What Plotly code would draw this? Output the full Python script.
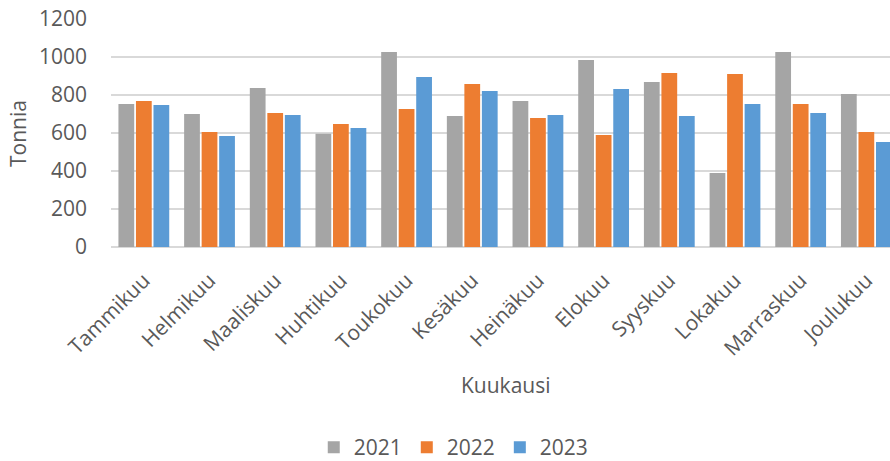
import plotly.graph_objects as go

MONTHS = ["Tammikuu", "Helmikuu", "Maaliskuu", "Huhtikuu", "Toukokuu", "Kesäkuu",
          "Heinäkuu", "Elokuu", "Syyskuu", "Lokakuu", "Marraskuu", "Joulukuu"]
Y2021 = [752, 700, 837, 596, 1026, 689, 768, 984, 868, 389, 1026, 805]
Y2022 = [768, 605, 705, 647, 726, 858, 679, 589, 916, 910, 752, 605]
Y2023 = [747, 584, 695, 626, 895, 821, 695, 832, 689, 752, 705, 553]
Y_TICKS = [0, 200, 400, 600, 800, 1000, 1200]

TEXT = "#595959"
FONT = "Open Sans, Liberation Sans, sans-serif"

fig = go.Figure()
for name, vals, color in [("2021", Y2021, "#A5A5A5"),
                          ("2022", Y2022, "#ED7D31"),
                          ("2023", Y2023, "#5B9BD5")]:
    fig.add_bar(name=name, x=MONTHS, y=vals, marker={"color": color, "line": {"width": 0}})

fig.update_layout(
    width=890,
    height=461,
    margin={"l": 111, "r": 0, "t": 19, "b": 214, "autoexpand": False},
    paper_bgcolor="white",
    plot_bgcolor="white",
    font={"family": FONT, "color": TEXT, "size": 21},
    barmode="group",
    bargap=0.2,
    bargroupgap=0.1,
    legend={"orientation": "h", "x": 0.44, "xanchor": "center", "y": -0.88,
            "yanchor": "middle", "font": {"size": 21}, "itemwidth": 30},
)
fig.update_yaxes(
    range=[0, 1200],
    tickvals=Y_TICKS,
    tickfont={"size": 21},
    ticklabelstandoff=23,
    ticklabeloverflow="allow",
    automargin=False,
    gridcolor="#D9D9D9",
    gridwidth=1.5,
    zeroline=True,
    zerolinecolor="#D9D9D9",
    zerolinewidth=1.5,
    ticks="",
)
fig.update_xaxes(
    range=[-0.5, 11.36],
    tickangle=-45,
    tickfont={"size": 21},
    ticklabelstandoff=16,
    ticklabeloverflow="allow",
    automargin=False,
    showline=False,
)

# axis titles
fig.add_annotation(text="Kuukausi", xref="paper", yref="paper", x=0.507, y=-0.605,
                   xanchor="center", yanchor="middle", showarrow=False,
                   font={"size": 21})
fig.add_annotation(text="Tonnia", xref="paper", yref="paper", x=-0.1194, y=0.5,
                   xanchor="center", yanchor="middle", textangle=-90,
                   showarrow=False, font={"size": 21})

# drop the default 8px body margin so the figure fills the window exactly
fig.write_html("out.html", config={"displayModeBar": False},
               post_script="document.body.style.margin = '0';")
